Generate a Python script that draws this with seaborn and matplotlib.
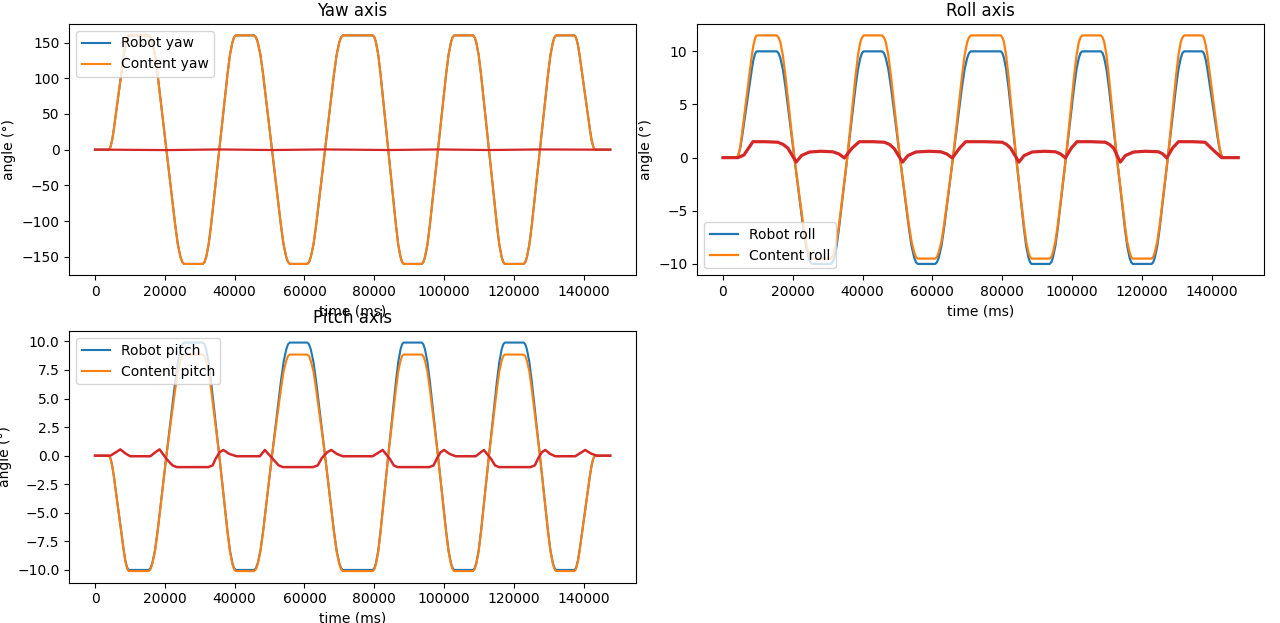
import matplotlib
matplotlib.use("Agg")
import matplotlib.pyplot as plt
import seaborn as sns

# ---------------- data ----------------
TIME_MS = [
    0,
    3900, 4190, 4480, 4915, 5350, 6800, 8250, 8685, 9120, 9410, 9700,
    15400, 15905, 16410, 17168, 17925, 20450, 22975, 23733, 24490, 24995, 25500,
    30900, 31370, 31840, 32545, 33250, 35600, 37950, 38655, 39360, 39830, 40300,
    45600, 46110, 46620, 47385, 48150, 50700, 53250, 54015, 54780, 55290, 55800,
    60800, 61310, 61820, 62585, 63350, 65900, 68450, 69215, 69980, 70490, 71000,
    79600, 80040, 80480, 81140, 81800, 84000, 86200, 86860, 87520, 87960, 88400,
    93600, 94065, 94530, 95228, 95925, 98250, 100575, 101273, 101970, 102435, 102900,
    108300, 108755, 109210, 109893, 110575, 112850, 115125, 115808, 116490, 116945, 117400,
    122800, 123265, 123730, 124428, 125125, 127450, 129775, 130473, 131170, 131635, 132100,
    137300, 137600, 137900, 138350, 138800, 140300, 141800, 142250, 142700, 143000, 143300,
    147600,
]

ROBOT_YAW = [
    0,
    0, 1.3, 4.8, 13.6, 27.2, 80, 132.8, 146.4, 155.2, 158.7, 160,
    160, 157.4, 150.4, 132.8, 105.6, 0, -105.6, -132.8, -150.4, -157.4, -160,
    -160, -157.4, -150.4, -132.8, -105.6, 0, 105.6, 132.8, 150.4, 157.4, 160,
    160, 157.4, 150.4, 132.8, 105.6, 0, -105.6, -132.8, -150.4, -157.4, -160,
    -160, -157.4, -150.4, -132.8, -105.6, 0, 105.6, 132.8, 150.4, 157.4, 160,
    160, 157.4, 150.4, 132.8, 105.6, 0, -105.6, -132.8, -150.4, -157.4, -160,
    -160, -157.4, -150.4, -132.8, -105.6, 0, 105.6, 132.8, 150.4, 157.4, 160,
    160, 157.4, 150.4, 132.8, 105.6, 0, -105.6, -132.8, -150.4, -157.4, -160,
    -160, -157.4, -150.4, -132.8, -105.6, 0, 105.6, 132.8, 150.4, 157.4, 160,
    160, 158.7, 155.2, 146.4, 132.8, 80, 27.2, 13.6, 4.8, 1.3, 0,
    0,
]
CONTENT_YAW = [
    0,
    0, 1.3, 4.8, 13.6, 27.2, 80, 132.8, 146.4, 155.2, 158.7, 160,
    160, 157.4, 150.4, 132.8, 105.6, 0, -105.6, -132.8, -150.4, -157.4, -160,
    -160, -157.4, -150.4, -132.8, -105.6, 0, 105.6, 132.8, 150.4, 157.4, 160,
    160, 157.4, 150.4, 132.8, 105.6, 0, -105.6, -132.8, -150.4, -157.4, -160,
    -160, -157.4, -150.4, -132.8, -105.6, 0, 105.6, 132.8, 150.4, 157.4, 160,
    160, 157.4, 150.4, 132.8, 105.6, 0, -105.6, -132.8, -150.4, -157.4, -160,
    -160, -157.4, -150.4, -132.8, -105.6, 0, 105.6, 132.8, 150.4, 157.4, 160,
    160, 157.4, 150.4, 132.8, 105.6, 0, -105.6, -132.8, -150.4, -157.4, -160,
    -160, -157.4, -150.4, -132.8, -105.6, 0, 105.6, 132.8, 150.4, 157.4, 160,
    160, 158.7, 155.2, 146.4, 132.8, 80, 27.2, 13.6, 4.8, 1.3, 0,
    0,
]
YAW_DIFF_TIME = [0, 3900, 20400, 35700, 50700, 65900, 84000, 98300,
                 112900, 127500, 143300, 147600]
YAW_DIFF = [0, 0, -0.6, 0.3, -0.5, 0.3, -0.5, 0.3, -0.5, 0.3, 0, 0]

ROBOT_ROLL = [
    0,
    0, 0.08, 0.3, 0.85, 1.7, 5, 8.3, 9.15, 9.7, 9.92, 10,
    10, 9.84, 9.4, 8.3, 6.6, 0, -6.6, -8.3, -9.4, -9.84, -10,
    -10, -9.84, -9.4, -8.3, -6.6, 0, 6.6, 8.3, 9.4, 9.84, 10,
    10, 9.84, 9.4, 8.3, 6.6, 0, -6.6, -8.3, -9.4, -9.84, -10,
    -10, -9.84, -9.4, -8.3, -6.6, 0, 6.6, 8.3, 9.4, 9.84, 10,
    10, 9.84, 9.4, 8.3, 6.6, 0, -6.6, -8.3, -9.4, -9.84, -10,
    -10, -9.84, -9.4, -8.3, -6.6, 0, 6.6, 8.3, 9.4, 9.84, 10,
    10, 9.84, 9.4, 8.3, 6.6, 0, -6.6, -8.3, -9.4, -9.84, -10,
    -10, -9.84, -9.4, -8.3, -6.6, 0, 6.6, 8.3, 9.4, 9.84, 10,
    10, 9.92, 9.7, 9.15, 8.3, 5, 1.7, 0.85, 0.3, 0.08, 0,
    0,
]
CONTENT_ROLL = [
    0,
    0, 0.09, 0.35, 0.98, 2.0, 5.8, 9.6, 10.5, 11.15, 11.4, 11.5,
    11.5, 11.3, 10.9, 9.6, 7.6, 0, -6.3, -7.9, -8.9, -9.35, -9.5,
    -9.5, -9.35, -8.9, -7.9, -6.3, 0, 7.6, 9.6, 10.9, 11.3, 11.5,
    11.5, 11.3, 10.9, 9.6, 7.6, 0, -6.3, -7.9, -8.9, -9.35, -9.5,
    -9.5, -9.35, -8.9, -7.9, -6.3, 0, 7.6, 9.6, 10.9, 11.3, 11.5,
    11.5, 11.3, 10.9, 9.6, 7.6, 0, -6.3, -7.9, -8.9, -9.35, -9.5,
    -9.5, -9.35, -8.9, -7.9, -6.3, 0, 7.6, 9.6, 10.9, 11.3, 11.5,
    11.5, 11.3, 10.9, 9.6, 7.6, 0, -6.3, -7.9, -8.9, -9.35, -9.5,
    -9.5, -9.35, -8.9, -7.9, -6.3, 0, 7.6, 9.6, 10.9, 11.3, 11.5,
    11.5, 11.4, 11.15, 10.5, 9.6, 5.8, 2.0, 0.98, 0.35, 0.09, 0,
    0,
]
ROLL_DIFF_TIME = [
    0, 4300, 6000, 8570, 12000, 15700, 17200, 18570, 20970, 22500, 24770, 28000, 31430, 33200, 34770, 37000, 39060,
    43000, 46200, 47700, 49060, 51430, 53000, 55260, 59000, 62400, 64100, 65710, 67800, 69540,
    75000, 80000, 81200, 82400, 84770, 86300, 88570, 92000, 95260, 96700, 98110, 99800, 101430,
    105500, 109540, 110700, 111910, 113820, 115300, 117630, 121000, 124770, 126000, 127140, 128800, 130490,
    134500, 138110, 140500, 142860, 147620,
]
ROLL_DIFF = [
    0, 0, 0.25, 1.5, 1.5, 1.45, 1.25, 0.9, -0.42, 0.2, 0.53, 0.6, 0.55, 0.35, -0.03, 0.9, 1.5,
    1.5, 1.45, 1.25, 0.85, -0.42, 0.2, 0.53, 0.6, 0.55, 0.35, -0.03, 0.9, 1.5,
    1.5, 1.45, 1.25, 0.9, -0.42, 0.2, 0.53, 0.6, 0.55, 0.35, -0.03, 0.9, 1.5,
    1.5, 1.45, 1.25, 0.9, -0.42, 0.2, 0.53, 0.6, 0.55, 0.35, -0.03, 0.9, 1.5,
    1.5, 1.45, 0.7, 0.0, 0.0,
]

ROBOT_PITCH = [
    0,
    0, -0.08, -0.3, -0.85, -1.7, -5, -8.3, -9.15, -9.7, -9.92, -10,
    -10, -9.84, -9.4, -8.3, -6.6, 0, 6.5, 8.2, 9.3, 9.75, 9.9,
    9.9, 9.75, 9.3, 8.2, 6.5, 0, -6.6, -8.3, -9.4, -9.84, -10,
    -10, -9.84, -9.4, -8.3, -6.6, 0, 6.5, 8.2, 9.3, 9.75, 9.9,
    9.9, 9.75, 9.3, 8.2, 6.5, 0, -6.6, -8.3, -9.4, -9.84, -10,
    -10, -9.84, -9.4, -8.3, -6.6, 0, 6.5, 8.2, 9.3, 9.75, 9.9,
    9.9, 9.75, 9.3, 8.2, 6.5, 0, -6.6, -8.3, -9.4, -9.84, -10,
    -10, -9.84, -9.4, -8.3, -6.6, 0, 6.5, 8.2, 9.3, 9.75, 9.9,
    9.9, 9.75, 9.3, 8.2, 6.5, 0, -6.6, -8.3, -9.4, -9.84, -10,
    -10, -9.92, -9.7, -9.15, -8.3, -5, -1.7, -0.85, -0.3, -0.08, 0,
    0,
]
CONTENT_PITCH = [
    0,
    0, -0.08, -0.3, -0.86, -1.7, -5.05, -8.4, -9.25, -9.8, -10.02, -10.1,
    -10.1, -9.94, -9.5, -8.4, -6.7, 0, 5.8, 7.35, 8.3, 8.72, 8.85,
    8.85, 8.72, 8.3, 7.35, 5.8, 0, -6.7, -8.4, -9.5, -9.94, -10.1,
    -10.1, -9.94, -9.5, -8.4, -6.7, 0, 5.8, 7.35, 8.3, 8.72, 8.85,
    8.85, 8.72, 8.3, 7.35, 5.8, 0, -6.7, -8.4, -9.5, -9.94, -10.1,
    -10.1, -9.94, -9.5, -8.4, -6.7, 0, 5.8, 7.35, 8.3, 8.72, 8.85,
    8.85, 8.72, 8.3, 7.35, 5.8, 0, -6.7, -8.4, -9.5, -9.94, -10.1,
    -10.1, -9.94, -9.5, -8.4, -6.7, 0, 5.8, 7.35, 8.3, 8.72, 8.85,
    8.85, 8.72, 8.3, 7.35, 5.8, 0, -6.7, -8.4, -9.5, -9.94, -10.1,
    -10.1, -10.02, -9.8, -9.25, -8.4, -5.05, -1.7, -0.86, -0.3, -0.08, 0,
    0,
]
PITCH_DIFF_TIME = [
    0, 4400, 6000, 7260, 8700, 10100, 15830, 17300, 18490, 20500, 22200, 23450, 32470, 33700, 34500, 35700, 36750, 38500, 40570,
    47220, 48650, 51000, 52600, 53870, 62430, 63800, 65000, 66500, 67680, 69300, 71000,
    79540, 82400, 84500, 85600, 86680, 95720, 97000, 98000, 99000, 100000, 101600, 103340,
    109040, 111410, 113500, 114600, 115690, 124730, 126000, 127000, 128000, 129010, 130400, 131870,
    137570, 140420, 142000, 143740, 147560,
]
PITCH_DIFF = [
    0, 0, 0.3, 0.55, 0.2, -0.05, -0.05, 0.3, 0.55, -0.3, -0.85, -1.0, -1.0, -0.85, -0.3, 0.3, 0.5, 0.15, -0.05,
    -0.05, 0.5, -0.3, -0.85, -1.0, -1.0, -0.85, -0.2, 0.3, 0.5, 0.15, -0.05,
    -0.05, 0.5, -0.3, -0.85, -1.0, -1.0, -0.85, -0.2, 0.3, 0.5, 0.15, -0.05,
    -0.05, 0.5, -0.3, -0.85, -1.0, -1.0, -0.85, -0.2, 0.3, 0.5, 0.15, -0.05,
    -0.05, 0.5, 0.2, 0.0, 0.0,
]

# ---------------- plot ----------------
C_ROBOT = "#1f77b4"
C_CONTENT = "#ff7f0e"
C_DIFF = "#d62728"

fig, axes = plt.subplots(2, 2, figsize=(12.8, 6.23), dpi=100)
fig.subplots_adjust(left=0.0541, right=0.9875, bottom=0.065, top=0.9615,
                    wspace=0.108, hspace=0.222)

panels = [
    (axes[0, 0], "Yaw axis", "yaw", ROBOT_YAW, CONTENT_YAW, YAW_DIFF_TIME, YAW_DIFF, "upper left", 1.5, 1.6),
    (axes[0, 1], "Roll axis", "roll", ROBOT_ROLL, CONTENT_ROLL, ROLL_DIFF_TIME, ROLL_DIFF, "lower left", 1.6, 2.3),
    (axes[1, 0], "Pitch axis", "pitch", ROBOT_PITCH, CONTENT_PITCH, PITCH_DIFF_TIME, PITCH_DIFF, "upper left", 1.5, 1.8),
]

for ax, title, name, robot, content, dt, dv, loc, lw, dlw in panels:
    sns.lineplot(x=TIME_MS, y=robot, ax=ax, color=C_ROBOT, label=f"Robot {name}",
                 estimator=None, linewidth=lw, sort=False)
    sns.lineplot(x=TIME_MS, y=content, ax=ax, color=C_CONTENT, label=f"Content {name}",
                 estimator=None, linewidth=lw, sort=False)
    sns.lineplot(x=dt, y=dv, ax=ax, color=C_DIFF, estimator=None, linewidth=dlw,
                 sort=False, legend=False)
    ax.set_title(title, fontsize=12)
    ax.set_xlabel("time (ms)", fontsize=10)
    ax.set_ylabel("angle (°)", fontsize=10)
    ax.tick_params(labelsize=10)
    ax.legend(loc=loc, fontsize=10)

axes[1, 1].remove()

fig.savefig("out.png", dpi=100)
